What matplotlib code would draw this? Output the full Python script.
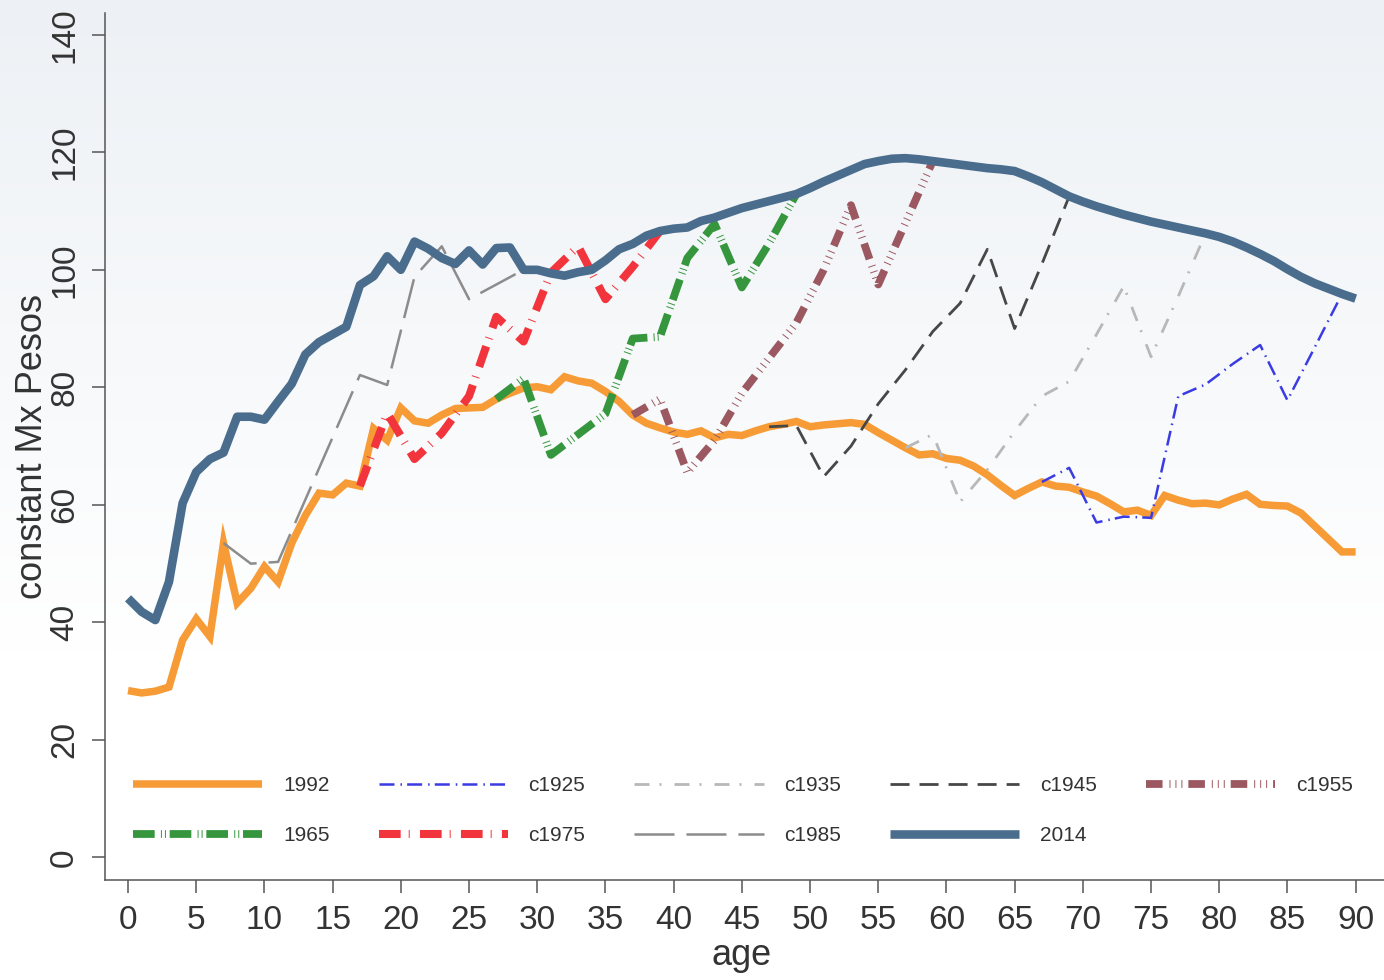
import numpy as np
import matplotlib
matplotlib.use("Agg")
import matplotlib.pyplot as plt
from matplotlib.colors import LinearSegmentedColormap

plt.rcParams['font.family'] = ['Liberation Sans', 'DejaVu Sans']
plt.rcParams['lines.scale_dashes'] = False

# ---------------- data ----------------
ages = np.arange(0, 91)

y1992 = [28.4, 28.0, 28.3, 29.0, 37.0, 40.6, 37.6, 53.5, 43.3, 45.8,
         49.5, 46.9, 53.5, 58.2, 62.0, 61.7, 63.7, 63.2, 73.0, 71.0,
         76.5, 74.3, 73.9, 75.3, 76.4, 76.5, 76.6, 78.0, 79.0, 79.9,
         80.1, 79.6, 81.8, 81.1, 80.7, 79.3, 77.6, 75.3, 73.9, 73.1,
         72.4, 72.0, 72.6, 71.4, 72.0, 71.8, 72.6, 73.3, 73.7, 74.2,
         73.3, 73.6, 73.8, 74.0, 73.7, 72.3, 71.0, 69.7, 68.5, 68.7,
         67.9, 67.6, 66.6, 65.1, 63.3, 61.6, 62.8, 63.9, 63.2, 63.0,
         62.2, 61.5, 60.2, 58.8, 59.1, 58.2, 61.6, 60.8, 60.2, 60.3,
         60.0, 61.0, 61.8, 60.1, 59.9, 59.8, 58.6, 56.4, 54.2, 52.0,
         52.0]

y2014 = [44.1, 41.8, 40.4, 46.9, 60.3, 65.6, 67.8, 68.9, 75.0, 75.0,
         74.5, 77.6, 80.6, 85.6, 87.7, 89.0, 90.3, 97.4, 98.9, 102.3,
         100.0, 104.8, 103.6, 102.0, 101.0, 103.3, 100.9, 103.7, 103.8, 100.0,
         100.0, 99.4, 99.0, 99.6, 100.0, 101.6, 103.5, 104.4, 105.8, 106.6,
         107.0, 107.2, 108.3, 108.9, 109.7, 110.5, 111.1, 111.7, 112.3, 112.9,
         113.9, 115.0, 116.0, 117.0, 118.0, 118.5, 118.9, 119.0, 118.8, 118.5,
         118.2, 117.9, 117.6, 117.3, 117.1, 116.8, 115.9, 114.9, 113.7, 112.5,
         111.6, 110.8, 110.1, 109.4, 108.8, 108.2, 107.7, 107.2, 106.7, 106.2,
         105.6, 104.8, 103.8, 102.7, 101.5, 100.1, 98.8, 97.7, 96.8, 95.9,
         95.1]

c1925_age = [67, 69, 71, 73, 75, 77, 79, 81, 83, 85, 87, 89]
c1925_val = [63.9, 66.3, 57.0, 58.0, 57.8, 78.5, 80.5, 84.0, 87.2, 77.8, 86.8, 95.9]

c1935_age = [57, 59, 61, 63, 65, 67, 69, 71, 73, 75, 77, 79]
c1935_val = [69.7, 72.0, 60.5, 66.0, 72.5, 78.5, 81.0, 89.0, 97.2, 85.2, 95.5, 106.2]

c1945_age = [47, 49, 51, 53, 55, 57, 59, 61, 63, 65, 67, 69]
c1945_val = [73.3, 73.5, 64.8, 70.0, 77.2, 83.0, 89.5, 94.3, 103.5, 90.0, 101.0, 112.5]

c1955_age = [37, 39, 41, 43, 45, 47, 49, 51, 53, 55, 57, 59]
c1955_val = [75.3, 78.0, 65.5, 71.0, 79.0, 85.0, 91.0, 100.0, 111.0, 97.5, 108.0, 118.5]

c1965_age = [27, 29, 31, 33, 35, 37, 39, 41, 43, 45, 47, 49]
c1965_val = [78.0, 81.5, 68.5, 72.0, 75.5, 88.3, 88.6, 102.0, 107.8, 97.0, 104.5, 112.9]

c1975_age = [17, 19, 21, 23, 25, 27, 29, 31, 33, 35, 37, 39]
c1975_val = [63.2, 75.6, 67.8, 72.2, 78.5, 92.0, 87.8, 99.5, 104.0, 95.0, 100.5, 106.6]

c1985_age = [7, 9, 11, 13, 15, 17, 19, 21, 23, 25, 27, 29]
c1985_val = [53.5, 50.0, 50.3, 60.9, 71.5, 82.1, 80.4, 98.8, 104.0, 95.0, 97.5, 100.0]

x_ticks = list(range(0, 91, 5))
y_ticks = list(range(0, 141, 20))

# ---------------- figure ----------------
fig = plt.figure(figsize=(13.84, 9.8), dpi=100)

bg = fig.add_axes([0, 0, 1, 1], zorder=-10)
grad = np.linspace(0, 1, 256)[:, None]
cmap = LinearSegmentedColormap.from_list('bg', ['#EDF1F5', '#F6F8FA', '#FFFFFF', '#FFFFFF'])
bg.imshow(grad, aspect='auto', cmap=cmap, extent=[0, 1, 0, 1], origin='upper')
bg.axis('off')

ax = fig.add_axes([105 / 1384, 100 / 980, 1279 / 1384, 867 / 980])
ax.set_facecolor('none')

h = {}
h['1992'], = ax.plot(ages, y1992, color='#F69B35', lw=5.4, solid_capstyle='butt',
                     solid_joinstyle='miter', label='1992')
h['c1925'], = ax.plot(c1925_age, c1925_val, color='#3B3BE3', lw=1.8,
                      linestyle=(0, (10.8, 4.3, 1.1, 3.7)), label='c1925')
h['c1935'], = ax.plot(c1935_age, c1935_val, color='#B8B8B8', lw=2.0,
                      linestyle=(0, (10.8, 7.2, 1.4, 9.4)), label='c1935')
h['c1945'], = ax.plot(c1945_age, c1945_val, color='#474747', lw=2.0,
                      linestyle=(0, (13.7, 7.2)), label='c1945')
h['c1955'], = ax.plot(c1955_age, c1955_val, color='#9B5861', lw=5.6,
                      linestyle=(0, (11.9, 5, 0.7, 3.6, 0.7, 3.6, 0.7, 4.3)), label='c1955')
h['1965'], = ax.plot(c1965_age, c1965_val, color='#36963D', lw=5.6,
                     linestyle=(0, (15.6, 4.5, 0.7, 2.2, 0.7, 2.7)), label='1965')
h['c1975'], = ax.plot(c1975_age, c1975_val, color='#F2343C', lw=5.8,
                      linestyle=(0, (15.6, 5.8, 0.7, 7.4)), label='c1975')
h['c1985'], = ax.plot(c1985_age, c1985_val, color='#8C8C8C', lw=1.8,
                      linestyle=(0, (28.8, 8.6)), label='c1985')
h['2014'], = ax.plot(ages, y2014, color='#4A6D8E', lw=6.2, solid_capstyle='butt',
                     label='2014')

ax.set_xlim(-1.69, 92.08)
ax.set_ylim(-3.83, 143.7)
ax.set_xticks(x_ticks)
ax.set_yticks(y_ticks)

for s in ['top', 'right']:
    ax.spines[s].set_visible(False)
for s in ['left', 'bottom']:
    ax.spines[s].set_color('#555555')
    ax.spines[s].set_linewidth(1.1)

ax.tick_params(axis='both', length=9.4, width=1.1, color='#555555',
               labelsize=24, labelcolor='#333333', pad=8.5)
ax.tick_params(axis='y', labelrotation=90)
for lab in ax.get_yticklabels():
    lab.set_va('center')

ax.set_ylabel('constant Mx Pesos', fontsize=26, color='#333333')
ax.yaxis.set_label_coords(-0.043, 0.5)
ax.set_xlabel('age', fontsize=26, color='#333333')
ax.xaxis.set_label_coords(0.498, -0.067)

order = ['1992', '1965', 'c1925', 'c1975', 'c1935', 'c1985', 'c1945', '2014', 'c1955']
ax.legend([h[k] for k in order], order, ncol=5, loc='upper left',
          bbox_to_anchor=(0.022, 0.120), frameon=False, fontsize=15,
          handlelength=6.2, handletextpad=1.0, columnspacing=2.35,
          labelspacing=1.5, borderpad=0, borderaxespad=0,
          labelcolor='#333333')

fig.savefig('out.png', dpi=100)
